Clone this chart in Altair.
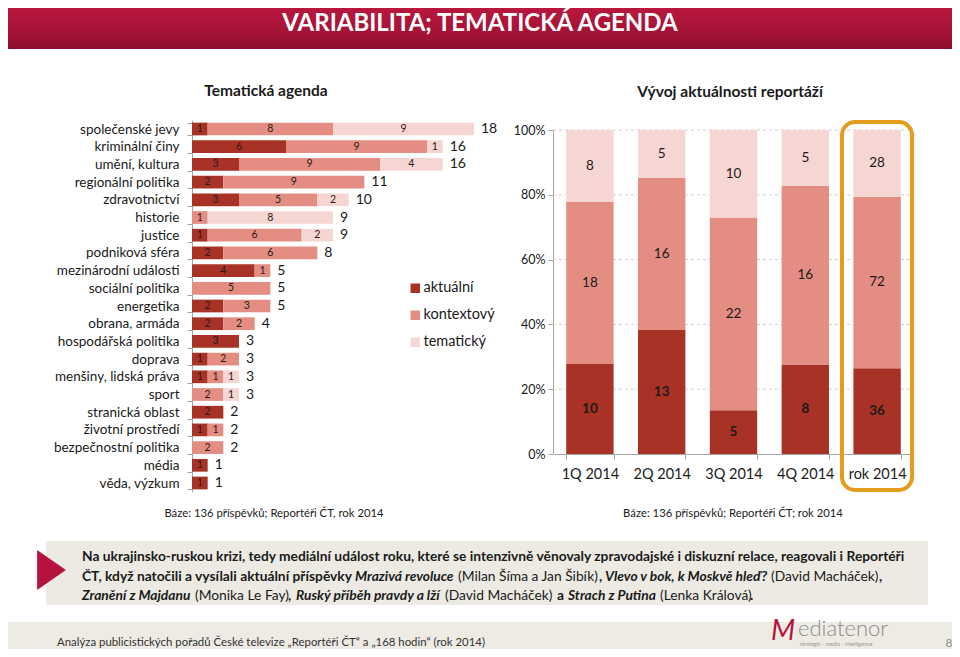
import altair as alt
import pandas as pd

FONT = "Lato"
W, H = 944, 641

# ---------------- data ----------------
categories = ["společenské jevy", "kriminální činy", "umění, kultura", "regionální politika",
              "zdravotnictví", "historie", "justice", "podniková sféra", "mezinárodní události",
              "sociální politika", "energetika", "obrana, armáda", "hospodářská politika",
              "doprava", "menšiny, lidská práva", "sport", "stranická oblast",
              "životní prostředí", "bezpečnostní politika", "média", "věda, výzkum"]
aktualni = [1, 6, 3, 2, 3, 0, 1, 2, 4, 0, 2, 2, 3, 1, 1, 0, 2, 1, 0, 1, 1]
kontextovy = [8, 9, 9, 9, 5, 1, 6, 6, 1, 5, 3, 2, 0, 2, 1, 2, 0, 1, 2, 0, 0]
tematicky = [9, 1, 4, 0, 2, 8, 2, 0, 0, 0, 0, 0, 0, 0, 1, 1, 0, 0, 0, 0, 0]

types = ["aktuální", "kontextový", "tematický"]
colors = ["#A93226", "#E48D83", "#F6D6D3"]

quarters = ["1Q 2014", "2Q 2014", "3Q 2014", "4Q 2014", "rok 2014"]
q_akt = [10, 13, 5, 8, 36]
q_kon = [18, 16, 22, 16, 72]
q_tem = [8, 5, 10, 5, 28]
pct_grid = [0.2, 0.4, 0.6, 0.8, 1.0]
pct_ticks = [0, 0.2, 0.4, 0.6, 0.8, 1.0]

# ---------------- tables ----------------
rows = []
for i, c in enumerate(categories):
    for k, (t, arr) in enumerate(zip(types, [aktualni, kontextovy, tematicky])):
        rows.append({"cat": c, "type": t, "value": arr[i], "ord": k})
left_df = pd.DataFrame(rows)
tot_df = pd.DataFrame({"cat": categories,
                       "total": [a + b + c for a, b, c in zip(aktualni, kontextovy, tematicky)]})

rrows = []
for i, q in enumerate(quarters):
    for k, (t, arr) in enumerate(zip(types, [q_akt, q_kon, q_tem])):
        rrows.append({"q": q, "type": t, "value": arr[i], "ord": k})
right_df = pd.DataFrame(rrows)
grid_df = pd.DataFrame({"g": pct_grid})

ONE = pd.DataFrame({"a": [0]})

# ---------------- scales / axes ----------------
color_scale = alt.Scale(domain=types, range=colors)
legend = alt.Legend(orient="none", legendX=400, legendY=273, title=None, symbolType="square",
                    symbolSize=90, symbolStrokeWidth=0, labelFontSize=14.5, labelFont=FONT,
                    labelColor="#1a1a1a", rowPadding=12, labelOffset=1, padding=0)

lx_scale = alt.Scale(domain=[0, 18], range=[184, 466])
ly_scale = alt.Scale(domain=categories, range=[112.15, 483.85], paddingInner=0.28, paddingOuter=0.14)
ly_axis = alt.Axis(orient="left", offset=-184, title=None, labelFontSize=13.5, labelFont=FONT,
                   labelColor="#1a1a1a", labelPadding=8, tickSize=5, tickBand="extent",
                   domainColor="#A6A6A6", tickColor="#A6A6A6", labelLimit=300)

rx_scale = alt.Scale(domain=quarters, range=[546, 905], paddingInner=0.34, paddingOuter=0.17)
rx_axis = alt.Axis(orient="bottom", offset=-195, title=None, labelAngle=0, labelFontSize=14.5,
                   labelFont=FONT, labelColor="#1a1a1a", labelPadding=8, tickSize=5,
                   tickBand="extent", domainColor="#A6A6A6", tickColor="#A6A6A6")
ry_scale = alt.Scale(domain=[0, 1], range=[446, 122])
ry_axis = alt.Axis(orient="left", offset=-545, title=None, format=".0%", values=pct_ticks,
                   labelFontSize=12.5, labelFont=FONT, labelColor="#1a1a1a", labelPadding=3,
                   tickSize=5, grid=False, domainColor="#A6A6A6", tickColor="#A6A6A6")

# ---------------- left chart ----------------
lbase = alt.Chart(left_df).transform_stack(
    stack="value", as_=["s0", "s1"], groupby=["cat"], sort=[alt.SortField("ord", order="ascending")]
).transform_calculate(mid="(datum.s0 + datum.s1) / 2")

left_bars = lbase.mark_bar().encode(
    x=alt.X("s0:Q", scale=lx_scale, axis=None),
    x2="s1:Q",
    y=alt.Y("cat:N", scale=ly_scale, axis=ly_axis, sort=categories),
    color=alt.Color("type:N", scale=color_scale, legend=legend),
)
left_seg = lbase.transform_filter("datum.value > 0").mark_text(
    font=FONT, fontSize=10.5, color="#2a1a1a", baseline="middle").encode(
    x=alt.X("mid:Q", scale=lx_scale, axis=None),
    y=alt.Y("cat:N", scale=ly_scale, axis=ly_axis, sort=categories),
    text="value:Q",
)
left_tot = alt.Chart(tot_df).mark_text(
    font=FONT, fontSize=14, color="#1a1a1a", align="left", dx=7, baseline="middle").encode(
    x=alt.X("total:Q", scale=lx_scale, axis=None),
    y=alt.Y("cat:N", scale=ly_scale, axis=ly_axis, sort=categories),
    text="total:Q",
)
left = alt.layer(left_bars, left_seg, left_tot)

# ---------------- right chart ----------------
grid = alt.Chart(grid_df).mark_rule(color="#CFCFCF", strokeDash=[3, 3], strokeWidth=1).encode(
    y=alt.Y("g:Q", scale=ry_scale, axis=ry_axis),
    x=alt.value(545), x2=alt.value(904),
)
rbase = alt.Chart(right_df).transform_stack(
    stack="value", as_=["y0", "y1"], groupby=["q"], offset="normalize",
    sort=[alt.SortField("ord", order="ascending")]
).transform_calculate(mid="(datum.y0 + datum.y1) / 2")

right_bars = rbase.mark_bar().encode(
    x=alt.X("q:N", scale=rx_scale, axis=rx_axis, sort=quarters),
    y=alt.Y("y0:Q", scale=ry_scale, axis=ry_axis),
    y2="y1:Q",
    color=alt.Color("type:N", scale=color_scale, legend=legend),
)
right_txt_akt = rbase.transform_filter("datum.ord == 0").mark_text(
    font=FONT, fontSize=13.5, fontWeight="bold", color="#1a1a1a", baseline="middle").encode(
    x=alt.X("q:N", scale=rx_scale, axis=rx_axis, sort=quarters),
    y=alt.Y("mid:Q", scale=ry_scale, axis=ry_axis),
    text="value:Q",
)
right_txt_oth = rbase.transform_filter("datum.ord > 0").mark_text(
    font=FONT, fontSize=13.5, color="#1a1a1a", baseline="middle").encode(
    x=alt.X("q:N", scale=rx_scale, axis=rx_axis, sort=quarters),
    y=alt.Y("mid:Q", scale=ry_scale, axis=ry_axis),
    text="value:Q",
)
right = alt.layer(grid, right_bars, right_txt_akt, right_txt_oth)

# ---------------- decorations ----------------
def rect(x, x2, y, y2, **mk):
    return alt.Chart(ONE).mark_rect(**mk).encode(
        x=alt.value(x), x2=alt.value(x2), y=alt.value(y), y2=alt.value(y2))


def texts(items, size, weight="normal", style="normal", color="#1a1a1a", align="left"):
    df = pd.DataFrame(items, columns=["px", "py", "t"])
    return alt.Chart(df).mark_text(font=FONT, fontSize=size, fontWeight=weight, fontStyle=style,
                                   color=color, align=align, baseline="middle").encode(
        x=alt.X("px:Q", scale=None, axis=None),
        y=alt.Y("py:Q", scale=None, axis=None),
        text="t:N")


banner_grad = alt.Gradient(gradient="linear",
                           stops=[alt.GradientStop(color="#B9173E", offset=0),
                                  alt.GradientStop(color="#A01234", offset=0.7),
                                  alt.GradientStop(color="#8A0D2B", offset=1)],
                           x1=0, x2=0, y1=0, y2=1)
banner = rect(0, W, 0, 41, fill=banner_grad)
title = texts([(472, 16, "VARIABILITA; TEMATICKÁ AGENDA")], 24, weight="bold", color="white",
              align="center")
subtitles = texts([(258, 83, "Tematická agenda"), (722, 84, "Vývoj aktuálnosti reportáží")], 15.5,
                  weight="bold", align="center")
base_notes = texts([(266, 506, "Báze: 136 příspěvků; Reportéři ČT, rok 2014"),
                    (725, 506, "Báze: 136 příspěvků; Reportéři ČT; rok 2014")], 11.3,
                   align="center", color="#222222")

highlight = rect(834, 904, 114, 482, fillOpacity=0, stroke="#E59B1C", strokeWidth=4,
                 cornerRadius=13)

box = rect(38, 920, 533, 597, fill="#ECEAE3")
triangle = alt.Chart(ONE).mark_point(shape="M -0.72 -1 L 0.72 0 L -0.72 1 Z", filled=True,
                                     size=1600, color="#B5123E", opacity=1).encode(
    x=alt.value(43.5), y=alt.value(562))

# text box: segments with mixed styles (x start in chart pixels)
BOX_FS = 13.8
L1, L2, L3 = 549, 569, 588
seg_b = [
    (74, L1, "Na ukrajinsko-ruskou krizi, tedy mediální událost roku, které se intenzivně věnovaly "
             "zpravodajské i diskuzní relace, reagovali i Reportéři"),
    (74, L2, "ČT, když natočili a vysílali aktuální příspěvky"),
    (591, L2, ","),
    (871, L2, ","),
    (280, L3, ","),
    (549, L3, "a"),
    (742, L3, "."),
]
seg_bi = [
    (347, L2, "Mrazivá revoluce"),
    (597, L2, "Vlevo v bok, k Moskvě hleď?"),
    (74, L3, "Zranění z Majdanu"),
    (288, L3, "Ruský příběh pravdy a lží"),
    (560, L3, "Strach z Putina"),
]
seg_r = [
    (450, L2, "(Milan Šíma a Jan Šibík)"),
    (763, L2, "(David Macháček)"),
    (187, L3, "(Monika Le Fay)"),
    (437, L3, "(David Macháček)"),
    (652, L3, "(Lenka Králová)"),
]
box_b = texts(seg_b, BOX_FS, weight="bold")
box_bi = texts(seg_bi, BOX_FS, weight="bold", style="italic")
box_r = texts(seg_r, BOX_FS)

footer_band = rect(0, W, 614, 641, fill="#EDEBE4")
footer_txt = texts([(49, 635, "Analýza publicistických pořadů České televize „Reportéři ČT“ a „168 hodin“ (rok 2014)")],
                   11.4, color="#333333")
logo_m = texts([(763, 624, "M")], 28, style="italic", color="#B5123E")
logo_rest = texts([(790, 621, "ediatenor")], 22, weight=300, color="#8C8C8C")
logo_tag = texts([(792, 636, "strategic - media - intelligence")], 5.5, color="#9A9A9A")
page_no = texts([(941, 635, "8")], 12, color="#8C8C8C", align="center")

chart = alt.layer(
    banner, title, subtitles,
    left, right,
    highlight, base_notes,
    box, triangle, box_b, box_bi, box_r,
    footer_band, footer_txt, logo_m, logo_rest, logo_tag, page_no,
).resolve_scale(x="independent", y="independent").properties(
    width=W, height=H, autosize=alt.AutoSizeParams(type="none"), padding=0,
    background="white",
).configure_view(stroke=None).configure_axis(labelFont=FONT).configure_text(font=FONT)

chart.save("out.html", embed_options={"renderer": "svg", "actions": False})
